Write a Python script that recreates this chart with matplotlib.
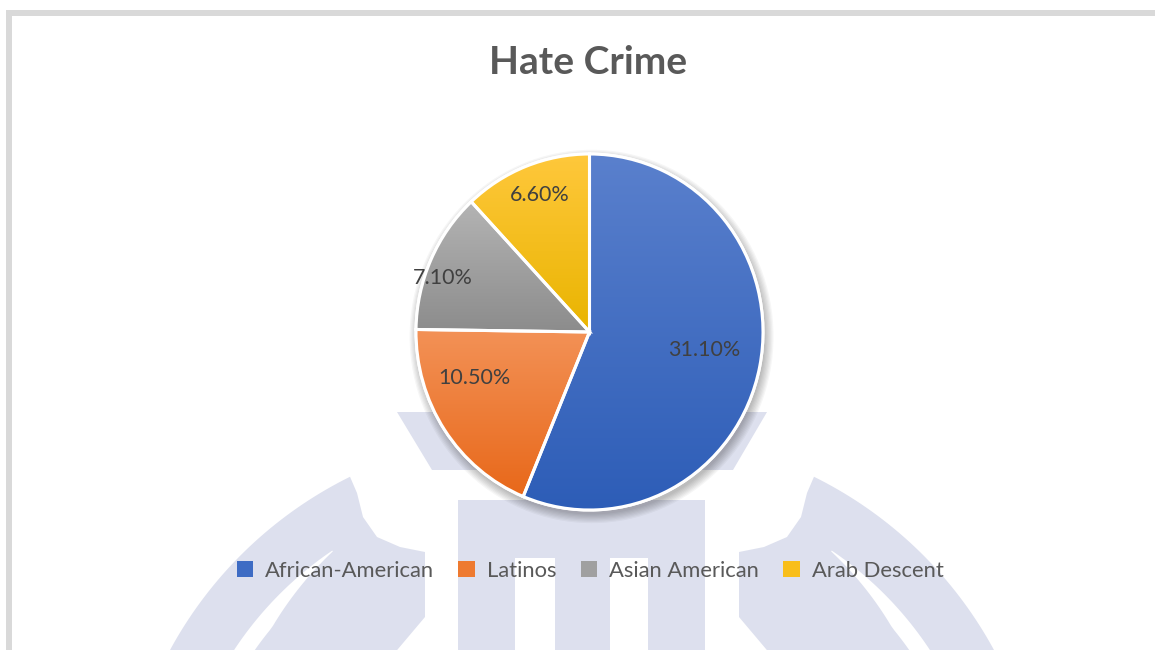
import numpy as np
import matplotlib
matplotlib.use("Agg")
import matplotlib.pyplot as plt
from matplotlib.patches import Polygon, Rectangle, Wedge, Circle, Patch
from matplotlib.colors import to_rgb

# Dados do gráfico
categorias = ['African-American', 'Latinos', 'Asian American', 'Arab Descent']
valores = [31.1, 10.5, 7.1, 6.6]
rotulos = [f'{v:.2f}%' for v in valores]

# cores do degradê (topo, base) de cada fatia
cores_topo = ['#5a80cd', '#f39257', '#b4b4b4', '#ffc83c']
cores_base = ['#2d5db7', '#e8681a', '#8c8c8c', '#e9b400']
cores_legenda = ['#3e6cc4', '#ee7a30', '#a0a0a0', '#f8be1a']
# posição dos rótulos (distância do centro e desvio do ângulo médio, em graus)
dist_rotulo = [0.67, 0.71, 0.90, 0.82]
desvio_ang = [2.7, -12, 4.4, -0.8]

plt.rcParams['font.family'] = ['Lato', 'DejaVu Sans']

fig = plt.figure(figsize=(11.55, 6.5), dpi=100)
fig.patch.set_facecolor('white')

# fundo: moldura cinza e marca d'água (em pixels)
bg = fig.add_axes([0, 0, 1, 1], zorder=0)
bg.set_xlim(0, 1155)
bg.set_ylim(650, 0)
bg.axis('off')

bg.add_patch(Rectangle((6, 10), 1149, 6, color='#d9d9d9', lw=0))
bg.add_patch(Rectangle((6, 10), 6, 640, color='#d9d9d9', lw=0))

lavanda = '#dde0ee'


def espelho(pts):
    pts = np.asarray(pts, dtype=float).copy()
    pts[:, 0] = 1164 - pts[:, 0]
    return pts


def arco(c, r, a0, a1, n=60):
    t = np.radians(np.linspace(a0, a1, n))
    return np.column_stack([c[0] + r * np.cos(t), c[1] + r * np.sin(t)])


# trapézio superior e barra central
bg.add_patch(Polygon([(397, 412), (767, 412), (733, 470), (432, 470)], closed=True, color=lavanda, lw=0))
bg.add_patch(Rectangle((458, 500), 247, 160, color=lavanda, lw=0))
bg.add_patch(Rectangle((515, 558), 40, 100, color='white', lw=0))
bg.add_patch(Rectangle((610, 558), 38, 100, color='white', lw=0))

# arcos laterais
centro = (533, 847)
externo = arco(centro, 413, -116.3, -172)
lado = np.array([(355, 700), (425, 617), (425, 552), (400, 547), (377, 537), (363, 517), (357, 493)])
forma = np.vstack([externo, lado])
t_cres = np.linspace(-124.1, -178, 60)
r_int = np.interp(t_cres, [-178, -140, -124.1], [340, 341, 357])
cres = np.vstack([arco(centro, 358, -124.1, -178),
                  np.column_stack([centro[0] + r_int * np.cos(np.radians(t_cres)),
                                   centro[1] + r_int * np.sin(np.radians(t_cres))])[::-1]])
for pts in (forma, espelho(forma)):
    bg.add_patch(Polygon(pts, closed=True, color=lavanda, lw=0))
for pts in (cres, espelho(cres)):
    bg.add_patch(Polygon(pts, closed=True, color='white', lw=0))

# eixo da pizza (levemente elíptica como na imagem)
cx, cy, rx, ry = 589.5, 332, 173.5, 178
m = 1.1
ax = fig.add_axes([(cx - m * rx) / 1155, (650 - cy - m * ry) / 650,
                   2 * m * rx / 1155, 2 * m * ry / 650], zorder=1)

# sombra suave
for i in range(8):
    ax.add_patch(Circle((0.012, -0.025), 1.0 + 0.007 * i, color='black', alpha=0.035, lw=0, zorder=0))

fatias, _ = ax.pie(valores, startangle=90, counterclock=False,
                   colors=cores_legenda, wedgeprops=dict(edgecolor='white', linewidth=2.2))

for i, w in enumerate(fatias):
    w.set_zorder(1)
    ext = w.get_path().get_extents()
    grad = np.linspace(0, 1, 256)[:, None, None]
    img = (1 - grad) * np.array(to_rgb(cores_topo[i])) + grad * np.array(to_rgb(cores_base[i]))
    im = ax.imshow(img, extent=[ext.x0, ext.x1, ext.y0, ext.y1], origin='upper',
                   aspect='auto', zorder=2, interpolation='bilinear')
    im.set_clip_path(w)
    ax.add_patch(Wedge(w.center, w.r, w.theta1, w.theta2, fc='none', ec='white', lw=2.2, zorder=3))
    ang = np.radians((w.theta1 + w.theta2) / 2 + desvio_ang[i])
    ax.text(dist_rotulo[i] * np.cos(ang), dist_rotulo[i] * np.sin(ang), rotulos[i],
            ha='center', va='center', fontsize=15.5, color='#404040', zorder=4)

ax.set_xlim(-m, m)
ax.set_ylim(-m, m)
ax.set_aspect('auto')
ax.axis('off')

# título
fig.text(588 / 1155, 1 - 62 / 650, 'Hate Crime', ha='center', va='center',
         fontsize=28, fontweight='bold', color='#595959')

# legenda
alcas = [Patch(facecolor=c, edgecolor='none') for c in cores_legenda]
leg = fig.legend(alcas, categorias, loc='center', bbox_to_anchor=(590 / 1155, 1 - 571 / 650),
                 ncol=4, frameon=False, fontsize=15.8, handlelength=0.75, handleheight=0.75,
                 handletextpad=0.55, columnspacing=1.1)
for t in leg.get_texts():
    t.set_color('#595959')

fig.savefig('out.png', dpi=100, facecolor='white')
